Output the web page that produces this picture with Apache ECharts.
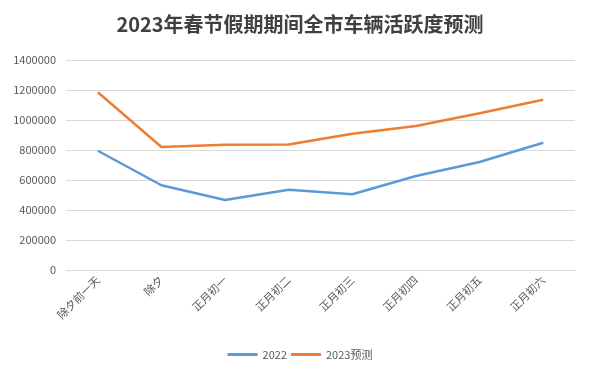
<!DOCTYPE html>
<html><head><meta charset="utf-8">
<script src="https://cdn.jsdelivr.net/npm/echarts@6/dist/echarts.min.js"></script>
<style>html,body{margin:0;padding:0;background:#fff}#c{width:600px;height:387px}</style>
</head><body><div id="c"></div>
<script>
const categories = ['除夕前一天','除夕','正月初一','正月初二','正月初三','正月初四','正月初五','正月初六'];
const s2022 = [795000, 565000, 467000, 535000, 505000, 627000, 720000, 848000];
const s2023 = [1185000, 820000, 835000, 836000, 908000, 960000, 1045000, 1135000];
const seriesNames = ['2022','2023预测'];
const chart = echarts.init(document.getElementById('c'));
chart.setOption({
  animation:false,
  backgroundColor:'#fff',
  title:{text:'2023年春节假期期间全市车辆活跃度预测',left:'center',top:9,
    textStyle:{fontFamily:'Noto Sans CJK SC',fontSize:20,fontWeight:'bold',color:'#404040'}},
  grid:{left:66,right:25,top:60,bottom:117},
  legend:{data:seriesNames,bottom:22,left:'center',itemWidth:30,itemHeight:3,itemGap:4,icon:'rect',
    textStyle:{color:'#595959',fontSize:11,fontFamily:'Noto Sans CJK SC'}},
  xAxis:{type:'category',data:categories,boundaryGap:true,
    axisLine:{show:true,lineStyle:{color:'#d9d9d9'}},axisTick:{show:false},
    axisLabel:{rotate:45,color:'#595959',fontSize:11,margin:8,interval:0,fontFamily:'Noto Sans CJK SC'}},
  yAxis:{type:'value',min:0,max:1400000,interval:200000,
    axisLine:{show:false},axisTick:{show:false},
    splitLine:{lineStyle:{color:'#d9d9d9'}},
    axisLabel:{color:'#595959',fontSize:11,margin:10,fontFamily:'Noto Sans CJK SC',formatter:v=>String(v)}},
  series:[
    {name:seriesNames[0],type:'line',data:s2022,showSymbol:false,symbol:'none',lineStyle:{width:2.5,color:'#5B9BD5'},itemStyle:{color:'#5B9BD5'}},
    {name:seriesNames[1],type:'line',data:s2023,showSymbol:false,symbol:'none',lineStyle:{width:2.5,color:'#ED7D31'},itemStyle:{color:'#ED7D31'}}
  ]
});
</script></body></html>
